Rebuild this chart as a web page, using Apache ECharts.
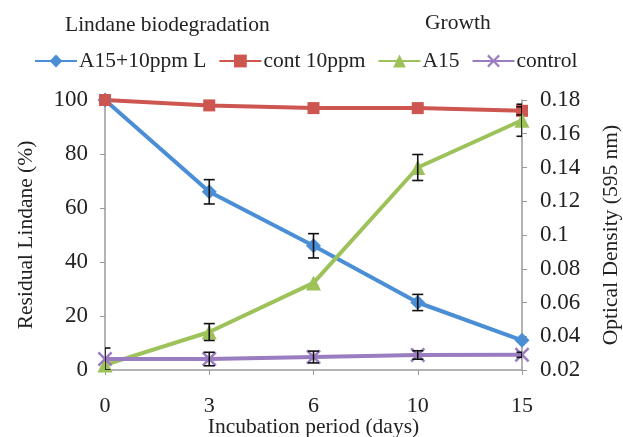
<!DOCTYPE html>
<html><head><meta charset="utf-8">
<script src="https://cdn.jsdelivr.net/npm/echarts@6/dist/echarts.min.js"></script>
<style>html,body{margin:0;padding:0;background:#fff}#c{width:623px;height:437px}</style>
</head><body><div id="c"></div>
<script>
var days = ['0', '3', '6', '10', '15'];
var lindaneA15 = [100, 66, 46, 25, 11];
var lindaneA15Err = [0, 4.5, 4.5, 3, 0];
var cont10ppm = [100, 98, 97, 97, 96];
var cont10ppmErr = [0, 0, 0, 0, 1.5];
var growthA15 = [0.023, 0.0425, 0.0716, 0.140, 0.168];
var growthA15Err = [0, 0.005, 0, 0.0077, 0.0095];
var growthControl = [0.0265, 0.0265, 0.0277, 0.0289, 0.029];
var growthControlErr = [0.0065, 0.004, 0.0035, 0.0025, 0.0015];
var leftTicks = {min: 0, max: 100, interval: 20};
var rightTicks = {min: 0.02, max: 0.18, interval: 0.02};

var FONT = 'Liberation Serif';
var TXT = '#222';
var AX = '#9a9a9a';
var FS = 21.5;
var TFS = 23;

function errData(vals, errs) {
  var out = [];
  for (var i = 0; i < vals.length; i++) {
    if (errs[i] > 0) out.push([i, vals[i] - errs[i], vals[i] + errs[i]]);
  }
  return out;
}
function errRender(params, api) {
  var x = api.value(0);
  var lo = api.coord([x, api.value(1)]);
  var hi = api.coord([x, api.value(2)]);
  var w = 5.5;
  var st = {stroke: '#111', lineWidth: 1.6};
  return {type: 'group', children: [
    {type: 'line', shape: {x1: lo[0], y1: lo[1], x2: hi[0], y2: hi[1]}, style: st},
    {type: 'line', shape: {x1: lo[0]-w, y1: lo[1], x2: lo[0]+w, y2: lo[1]}, style: st},
    {type: 'line', shape: {x1: hi[0]-w, y1: hi[1], x2: hi[0]+w, y2: hi[1]}, style: st}
  ]};
}
function errSeries(vals, errs, yi) {
  return {type: 'custom', yAxisIndex: yi, renderItem: errRender, data: errData(vals, errs),
    clip: true, z: 10, silent: true, encode: {x: 0, y: [1, 2]}};
}
var xMark = 'path://M0,1.2 L1.2,0 L5,3.8 L8.8,0 L10,1.2 L6.2,5 L10,8.8 L8.8,10 L5,6.2 L1.2,10 L0,8.8 L3.8,5 Z';

var chart = echarts.init(document.getElementById('c'));
chart.setOption({
  animation: false,
  textStyle: {fontFamily: FONT, color: TXT},
  title: [
    {text: 'Lindane biodegradation', left: 60, top: 9, textStyle: {fontFamily: FONT, fontSize: FS, fontWeight: 'normal', color: TXT}},
    {text: 'Growth', left: 420, top: 7, textStyle: {fontFamily: FONT, fontSize: FS, fontWeight: 'normal', color: TXT}}
  ],
  legend: {
    left: 29, top: 45, itemWidth: 42, itemHeight: 16, itemGap: 12,
    textStyle: {fontFamily: FONT, fontSize: FS, color: TXT, padding: [0, 0, 0, -3]},
    data: ['A15+10ppm L', 'cont 10ppm', 'A15', 'control']
  },
  grid: {left: 105, right: 101, top: 100, bottom: 67, containLabel: false, outerBoundsMode: 'none'},
  xAxis: {
    type: 'category', data: days, boundaryGap: false,
    name: 'Incubation period (days)', nameLocation: 'middle', nameGap: 46, nameMoveOverlap: false,
    nameTextStyle: {fontFamily: FONT, fontSize: FS, color: TXT},
    axisLine: {lineStyle: {color: AX, width: 1.5}},
    axisTick: {alignWithLabel: true, length: 5, lineStyle: {color: AX}},
    axisLabel: {fontFamily: FONT, fontSize: TFS - 1, color: TXT, margin: 25},
    splitLine: {show: false}
  },
  yAxis: [
    {type: 'value', min: leftTicks.min, max: leftTicks.max, interval: leftTicks.interval,
      name: 'Residual Lindane (%)', nameLocation: 'middle', nameGap: 68, nameRotate: 90, nameMoveOverlap: false,
      nameTextStyle: {fontFamily: FONT, fontSize: FS, color: TXT},
      axisLine: {show: true, lineStyle: {color: AX, width: 1.5}},
      axisTick: {show: true, length: 5, lineStyle: {color: AX}},
      axisLabel: {fontFamily: FONT, fontSize: TFS, color: TXT, margin: 17},
      splitLine: {show: false}},
    {type: 'value', min: rightTicks.min, max: rightTicks.max, interval: rightTicks.interval,
      position: 'right',
      name: 'Optical Density (595 nm)', nameLocation: 'middle', nameGap: 78, nameRotate: 90, nameMoveOverlap: false,
      nameTextStyle: {fontFamily: FONT, fontSize: FS, color: TXT},
      axisLine: {show: true, lineStyle: {color: AX, width: 1.5}},
      axisTick: {show: true, length: 5, lineStyle: {color: AX}},
      axisLabel: {fontFamily: FONT, fontSize: TFS, color: TXT, margin: 18,
        formatter: function (v) { return String(Math.round(v * 100) / 100); }},
      splitLine: {show: false}}
  ],
  series: [
    {name: 'A15+10ppm L', type: 'line', yAxisIndex: 0, data: lindaneA15,
      symbol: 'diamond', symbolSize: 15, color: '#4a8ed6',
      lineStyle: {width: 4}, itemStyle: {color: '#4a8ed6'}},
    {name: 'cont 10ppm', type: 'line', yAxisIndex: 0, data: cont10ppm,
      symbol: 'rect', symbolSize: 12, color: '#cd5650',
      lineStyle: {width: 4}, itemStyle: {color: '#cd5650'}},
    {name: 'A15', type: 'line', yAxisIndex: 1, data: growthA15,
      symbol: 'triangle', symbolSize: 15, color: '#9dc25a',
      lineStyle: {width: 4}, itemStyle: {color: '#9dc25a'}},
    {name: 'control', type: 'line', yAxisIndex: 1, data: growthControl,
      symbol: xMark, symbolSize: 15, color: '#8c67b0',
      lineStyle: {width: 4}, itemStyle: {color: '#9a7cc0'}},
    errSeries(lindaneA15, lindaneA15Err, 0),
    errSeries(cont10ppm, cont10ppmErr, 0),
    errSeries(growthA15, growthA15Err, 1),
    errSeries(growthControl, growthControlErr, 1)
  ]
});
</script></body></html>
